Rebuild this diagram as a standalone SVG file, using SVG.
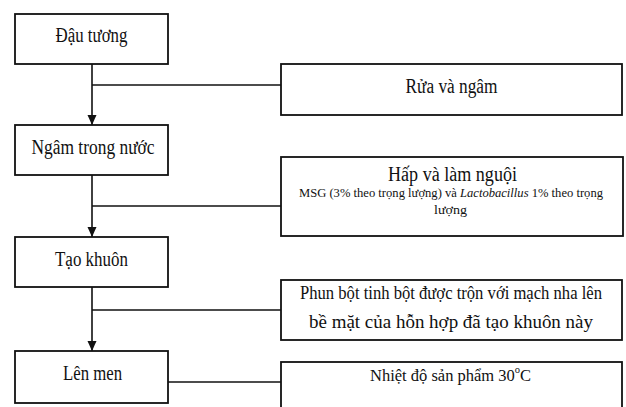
<svg xmlns="http://www.w3.org/2000/svg" width="626" height="407" viewBox="0 0 626 407">
<style>
.box{fill:#fff;stroke:#111;stroke-width:1.8}
.t{font-family:"Liberation Serif","DejaVu Serif",serif;fill:#111;text-anchor:middle}
.m{font-size:20px}
.s{font-size:13px}
.c{fill:none;stroke:#111;stroke-width:1.6}
</style>
<defs>
<marker id="arr" markerWidth="10" markerHeight="12" refX="10" refY="5" orient="auto" markerUnits="userSpaceOnUse">
<path d="M0,0.5 L10,5 L0,9.5 Z" fill="#111"/>
</marker>
</defs>
<rect width="626" height="407" fill="#fff"/>
<g id="connectors">
<line class="c" x1="92" y1="64" x2="92" y2="125" marker-end="url(#arr)"/>
<line class="c" x1="92" y1="85" x2="281" y2="85"/>
<line class="c" x1="92" y1="175" x2="92" y2="237" marker-end="url(#arr)"/>
<line class="c" x1="92" y1="206" x2="281" y2="206"/>
<line class="c" x1="92" y1="287" x2="92" y2="351" marker-end="url(#arr)"/>
<line class="c" x1="92" y1="310" x2="281" y2="310"/>
<line class="c" x1="168" y1="382" x2="281" y2="382"/>
</g>
<g id="dau-tuong">
<rect class="box" x="15" y="14" width="153" height="50"/>
<text class="t m" x="91.5" y="42" textLength="72" lengthAdjust="spacingAndGlyphs">Đậu tương</text>
</g>
<g id="rua-va-ngam">
<rect class="box" x="281" y="64" width="341" height="51"/>
<text class="t m" x="451.5" y="93" textLength="92" lengthAdjust="spacingAndGlyphs">Rửa và ngâm</text>
</g>
<g id="ngam-trong-nuoc">
<rect class="box" x="15" y="125" width="153" height="50"/>
<text class="t m" x="93" y="154" textLength="123" lengthAdjust="spacingAndGlyphs">Ngâm trong nước</text>
</g>
<g id="hap-va-lam-nguoi">
<rect class="box" x="281" y="157" width="342" height="79"/>
<text class="t m" x="452.5" y="181" textLength="129" lengthAdjust="spacingAndGlyphs">Hấp và làm nguội</text>
<text class="t s" x="451" y="197" textLength="304" lengthAdjust="spacingAndGlyphs">MSG (3% theo trọng lượng) và <tspan font-style="italic">Lactobacillus</tspan> 1% theo trọng</text>
<text class="t s" x="450.5" y="214" textLength="33" lengthAdjust="spacingAndGlyphs">lượng</text>
</g>
<g id="tao-khuon">
<rect class="box" x="15" y="237" width="153" height="50"/>
<text class="t m" x="91.5" y="266" textLength="73" lengthAdjust="spacingAndGlyphs">Tạo khuôn</text>
</g>
<g id="phun-bot">
<rect class="box" x="281" y="280" width="341" height="60"/>
<text class="t" font-size="18" x="451" y="299" textLength="302" lengthAdjust="spacingAndGlyphs">Phun bột tinh bột được trộn với mạch nha lên</text>
<text class="t" font-size="18" x="451" y="328" textLength="284" lengthAdjust="spacingAndGlyphs">bề mặt của hỗn hợp đã tạo khuôn này</text>
</g>
<g id="len-men">
<rect class="box" x="15" y="351" width="153" height="52"/>
<text class="t m" x="92.5" y="380" textLength="59" lengthAdjust="spacingAndGlyphs">Lên men</text>
</g>
<g id="nhiet-do">
<rect class="box" x="281" y="362" width="341" height="60"/>
<text class="t" font-size="16.5" x="370" y="381" style="text-anchor:start">Nhiệt độ sản phẩm 30<tspan font-size="10.5" dy="-8">o</tspan><tspan dy="8">C</tspan></text>
</g>
</svg>
